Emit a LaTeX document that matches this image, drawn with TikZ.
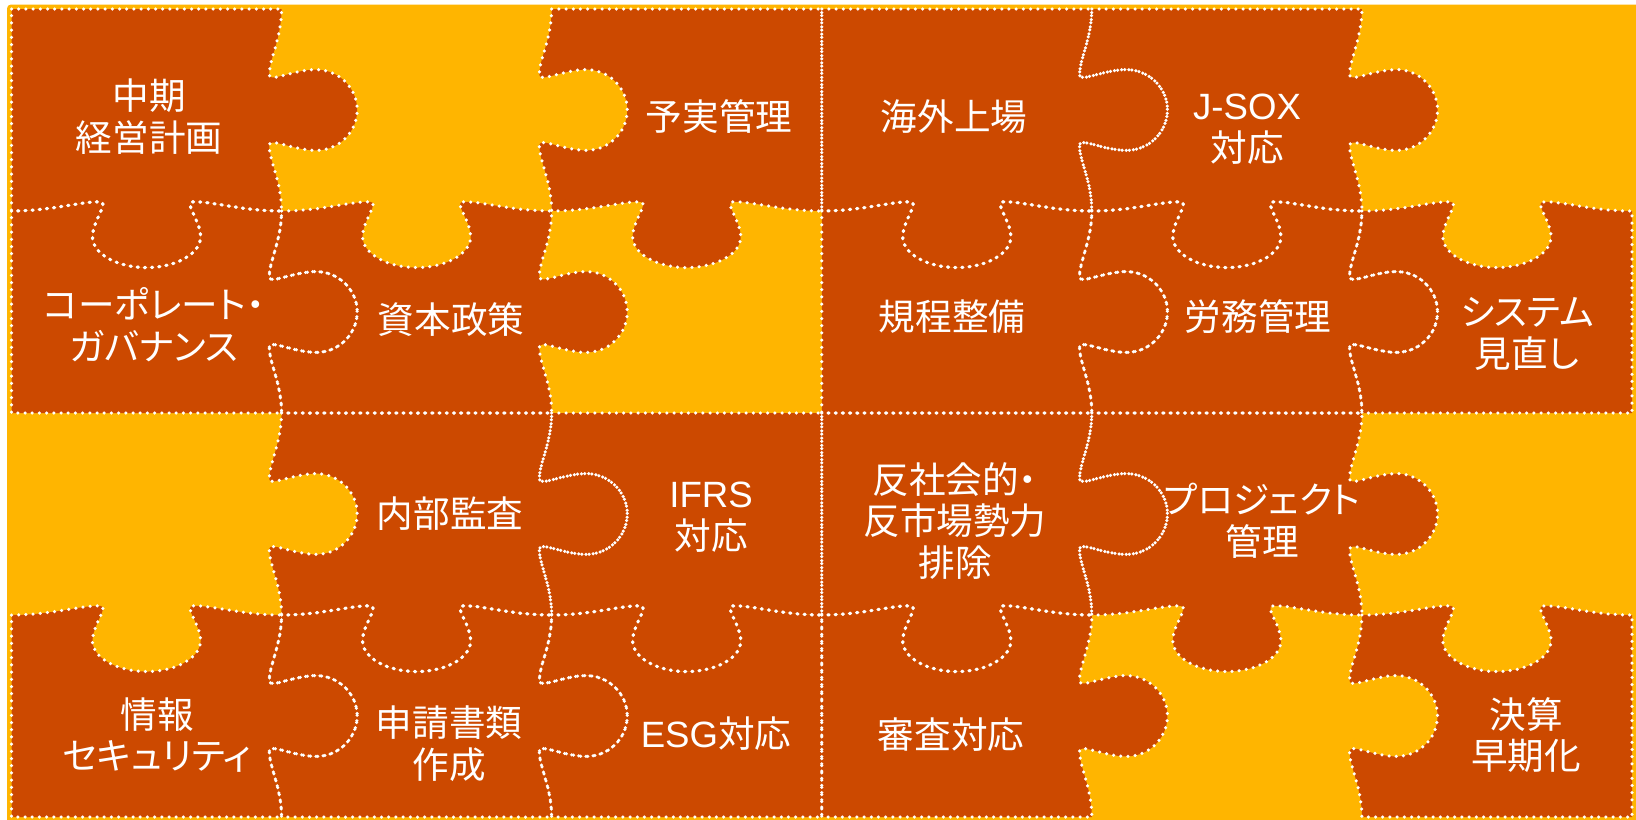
\documentclass[tikz,border=0pt]{standalone}
\usepackage{fontspec}
\newfontfamily\jp[RawFeature=+palt]{Noto Sans CJK JP}
\newfontfamily\lat{Liberation Sans}
\definecolor{dark}{RGB}{204,73,0}
\definecolor{gold}{RGB}{255,181,0}
% point on an edge: start (#1,#2), tangent (#3,#4), normal (#5,#6), local (t,d)=(#7,#8)
\newcommand\jpt[8]{({#1+(#7)*(#3)+(#8)*(#5)},{#2+(#7)*(#4)+(#8)*(#6)})}
\newcommand\Edge[6]{%
 .. controls \jpt{#1}{#2}{#3}{#4}{#5}{#6}{0.15}{0} and \jpt{#1}{#2}{#3}{#4}{#5}{#6}{0.26}{-0.05} .. \jpt{#1}{#2}{#3}{#4}{#5}{#6}{0.33}{-0.045}
 .. controls \jpt{#1}{#2}{#3}{#4}{#5}{#6}{0.36}{-0.04} and \jpt{#1}{#2}{#3}{#4}{#5}{#6}{0.305}{0.04} .. \jpt{#1}{#2}{#3}{#4}{#5}{#6}{0.30}{0.12}
 .. controls \jpt{#1}{#2}{#3}{#4}{#5}{#6}{0.295}{0.21} and \jpt{#1}{#2}{#3}{#4}{#5}{#6}{0.39}{0.28} .. \jpt{#1}{#2}{#3}{#4}{#5}{#6}{0.5}{0.28}
 .. controls \jpt{#1}{#2}{#3}{#4}{#5}{#6}{0.61}{0.28} and \jpt{#1}{#2}{#3}{#4}{#5}{#6}{0.705}{0.21} .. \jpt{#1}{#2}{#3}{#4}{#5}{#6}{0.70}{0.12}
 .. controls \jpt{#1}{#2}{#3}{#4}{#5}{#6}{0.695}{0.04} and \jpt{#1}{#2}{#3}{#4}{#5}{#6}{0.64}{-0.04} .. \jpt{#1}{#2}{#3}{#4}{#5}{#6}{0.67}{-0.045}
 .. controls \jpt{#1}{#2}{#3}{#4}{#5}{#6}{0.74}{-0.05} and \jpt{#1}{#2}{#3}{#4}{#5}{#6}{0.85}{0} .. \jpt{#1}{#2}{#3}{#4}{#5}{#6}{1}{0}}
\newcommand\setupedges{%
  \pgfmathtruncatemacro\cm{mod(\cc,3)}%
  \ifodd\rr\relax
    \def\eT{\Edge{\cc}{\rr}{1}{0}{0}{1}}\def\eB{-- (\cc,\rr+1)}%
  \else
    \def\eT{-- (\cc+1,\rr)}\def\eB{\Edge{\cc+1}{\rr+1}{-1}{0}{0}{1}}%
  \fi
  \ifnum\cm=2\relax \def\eR{-- (\cc+1,\rr+1)}\else \def\eR{\Edge{\cc+1}{\rr}{0}{1}{1}{0}}\fi
  \ifnum\cm=0\relax \def\eL{-- cycle}\else \def\eL{\Edge{\cc}{\rr+1}{0}{-1}{1}{0} -- cycle}\fi
}
\def\darkpieces{0/0,2/0,3/0,4/0,0/1,1/1,3/1,4/1,5/1,1/2,2/2,3/2,4/2,0/3,1/3,2/3,3/3,5/3}
\tikzset{
  piecefill/.style={fill=dark},
  dots/.style={draw=white, line width=1.75pt, line cap=round, dash pattern=on 0pt off 3.6pt},
  lbl/.style={text=white, align=center, inner sep=0pt, font=\jp\fontsize{18.3}{20.9}\selectfont},
}
\begin{document}
\begin{tikzpicture}[x=0.5pt, y=-0.5pt]
\useasboundingbox (0,0) rectangle (1636,819);
\fill[white] (0,0) rectangle (1636,819);
\fill[gold, rounded corners=2pt] (7,4.5) rectangle (1645,830);
\begin{scope}[shift={(5.75pt,-4.5pt)}, x=135.04pt, y=-101pt]
  \foreach \cc/\rr in \darkpieces {
    \setupedges
    \fill[piecefill] (\cc,\rr) \eT \eR \eB \eL;
  }
  \foreach \cc/\rr in \darkpieces {
    \setupedges
    \draw[dots] (\cc,\rr) \eT \eR \eB \eL;
  }
\end{scope}
\node[lbl] (t1) at (149,117) {中期\\経営計画};
\node[lbl] (t2) at (719,117) {予実管理};
\node[lbl] (t3) at (954,117) {海外上場};
\node[lbl] (t4) at (1247,129) {{\lat J-SOX}\\対応};
\node[lbl] (t5) at (154,325) {コーポレート・\\ガバナンス};
\node[lbl] (t6) at (451,320) {資本政策};
\node[lbl] (t7) at (952,317) {規程整備};
\node[lbl] (t8) at (1258,317) {労務管理};
\node[lbl] (t9) at (1527,334) {システム\\見直し};
\node[lbl] (t10) at (450,514) {内部監査};
\node[lbl] (t11) at (711,517) {{\lat IFRS}\\対応};
\node[lbl] (t12) at (955,521) {反社会的・\\反市場勢力\\排除};
\node[lbl] (t13) at (1262,521) {プロジェクト\\管理};
\node[lbl] (t14) at (157,735) {情報\\セキュリティ};
\node[lbl] (t15) at (449,744) {申請書類\\作成};
\node[lbl] (t16) at (716,734) {{\lat ESG}対応};
\node[lbl] (t17) at (951,735) {審査対応};
\node[lbl] (t18) at (1526,735) {決算\\早期化};
\end{tikzpicture}
\end{document}
